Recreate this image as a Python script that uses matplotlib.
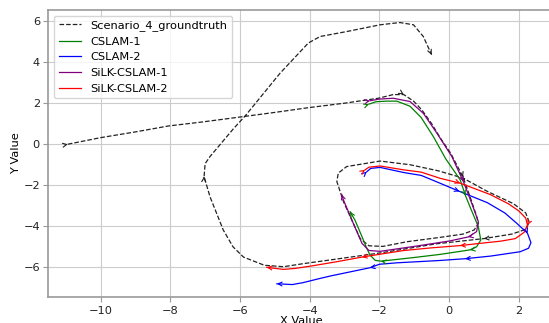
import matplotlib
matplotlib.use("Agg")
import matplotlib.pyplot as plt
import numpy as np

# trajectories (x, y in metres)
gt_x = [-10.94, -10.0, -9.0, -8.05, -7.1, -6.2, -5.0, -4.04, -3.0, -2.03, -1.6, -1.3,
        -1.02, -0.78, -0.5, -0.25, 0.05, 0.4, 0.62, 0.79, 0.84, 0.72, 0.4, -0.3,
        -1.2, -1.9, -2.3, -2.55, -2.75, -3.03, -3.22, -3.18, -2.94, -1.98, -1.12, -0.3,
        0.4, 1.1, 1.85, 2.2, 2.3, 2.2, 1.8, 1.0, -0.35, -1.98, -3.41, -4.18,
        -4.75, -5.3, -5.9, -6.2, -6.48, -6.86, -7.03, -7.0, -6.86, -6.19, -5.85, -4.85,
        -4.04, -3.7, -2.94, -1.98, -1.41, -1.02, -0.74, -0.5]
gt_y = [0.0, 0.32, 0.6, 0.89, 1.08, 1.28, 1.55, 1.78, 2.0, 2.24, 2.42, 2.42,
        2.1, 1.67, 1.0, 0.3, -0.45, -1.6, -2.65, -3.5, -3.86, -4.18, -4.38, -4.55,
        -4.75, -4.98, -4.95, -4.6, -3.85, -2.8, -1.82, -1.41, -1.09, -0.82, -1.0, -1.3,
        -1.65, -2.3, -2.9, -3.35, -3.8, -4.15, -4.38, -4.6, -4.85, -5.3, -5.64, -5.82,
        -5.97, -5.9, -5.5, -5.0, -4.18, -2.56, -1.58, -0.95, -0.6, 0.75, 1.38, 3.46,
        4.93, 5.25, 5.49, 5.82, 5.93, 5.82, 5.25, 4.36]
gt_arrows = [0, 11, 17, 43, 54, -1]

cslam1_x = [-2.3, -2.1, -1.79, -1.5, -1.12, -0.8, -0.45, -0.1, 0.32, 0.47, 0.6, 0.84,
            0.91, 0.79, 0.6, -0.26, -1.0, -1.95, -2.12, -2.27, -2.38, -2.5, -2.7, -2.84]
cslam1_y = [1.95, 2.07, 2.1, 2.1, 1.85, 1.3, 0.37, -0.7, -1.74, -2.5, -3.05, -4.02,
            -4.67, -5.0, -5.15, -5.37, -5.52, -5.7, -5.66, -5.4, -5.0, -4.5, -3.7, -3.29]
cslam1_arrows = [0, 9, 14, 17, -1]

cslam2_x = [-2.36, -2.25, -1.98, -1.3, -0.8, -0.26, 0.3, 1.1, 1.6, 1.94, 2.25, 2.35,
            2.28, 2.04, 1.2, 0.46, -0.3, -1.5, -2.0, -2.27, -3.4, -3.7, -4.2, -4.5, -4.94]
cslam2_y = [-1.34, -1.18, -1.13, -1.38, -1.52, -1.9, -2.3, -2.85, -3.35, -3.85, -4.34, -4.8,
            -5.07, -5.24, -5.45, -5.58, -5.67, -5.78, -5.85, -6.02, -6.42, -6.54, -6.75, -6.84, -6.8]
cslam2_arrows = [0, 6, 10, 15, 19, -1]

silk1_x = [-2.27, -2.0, -1.6, -1.12, -0.74, -0.35, 0.08, 0.41, 0.65, 0.84, 0.79, 0.55,
           0.0, -1.0, -1.98, -2.3, -2.5, -2.75, -3.03, -3.08]
silk1_y = [2.12, 2.2, 2.24, 2.08, 1.51, 0.54, -0.6, -1.82, -2.88, -3.77, -4.26, -4.52,
           -4.72, -4.98, -5.22, -5.18, -4.83, -3.85, -2.72, -2.45]
silk1_arrows = [0, 7, 11, -1]

silk2_x = [-2.41, -2.3, -1.98, -1.3, -0.8, -0.26, 0.32, 1.18, 1.7, 2.0, 2.2, 2.25,
           2.15, 1.9, 1.5, 0.9, 0.32, -0.5, -1.3, -2.5, -3.2, -3.9, -4.4, -4.75, -5.0, -5.23]
silk2_y = [-1.25, -1.12, -1.06, -1.25, -1.36, -1.66, -1.9, -2.45, -2.9, -3.25, -3.6, -3.94,
           -4.3, -4.6, -4.72, -4.83, -4.94, -5.05, -5.18, -5.5, -5.72, -5.92, -6.05, -6.1, -6.05, -6.0]
silk2_arrows = [0, 6, 11, 16, 19, -1]


def add_arrows(ax, xs, ys, idx, color):
    xs = np.asarray(xs)
    ys = np.asarray(ys)
    n = len(xs)
    for i in idx:
        i = i % n
        if i < n - 1:
            dx, dy = xs[i + 1] - xs[i], ys[i + 1] - ys[i]
        else:
            dx, dy = xs[i] - xs[i - 1], ys[i] - ys[i - 1]
        d = np.hypot(dx, dy)
        ax.annotate("", xy=(xs[i], ys[i]),
                    xytext=(xs[i] - 0.08 * dx / d, ys[i] - 0.08 * dy / d),
                    arrowprops=dict(arrowstyle="->", color=color, lw=0.8,
                                    mutation_scale=7, shrinkA=0, shrinkB=0))


fs = 8.2
plt.rcParams["font.size"] = fs
fig = plt.figure(figsize=(5.49, 3.23), dpi=100)
ax = fig.add_axes([0.088, 0.0796, 0.9204, 0.890])

series = [
    (gt_x, gt_y, gt_arrows, "#222222", "--", "Scenario_4_groundtruth"),
    (cslam1_x, cslam1_y, cslam1_arrows, "green", "-", "CSLAM-1"),
    (cslam2_x, cslam2_y, cslam2_arrows, "blue", "-", "CSLAM-2"),
    (silk1_x, silk1_y, silk1_arrows, "purple", "-", "SiLK-CSLAM-1"),
    (silk2_x, silk2_y, silk2_arrows, "red", "-", "SiLK-CSLAM-2"),
]
for xs, ys, arr, c, ls, name in series:
    ax.plot(xs, ys, linestyle=ls, color=c, lw=0.9, label=name)
    add_arrows(ax, xs, ys, arr, c)

ax.set_xlim(-11.5, 3.0)
ax.set_ylim(-7.46, 6.55)
ax.grid(True, color="#cccccc", lw=0.8)
for s in ax.spines.values():
    s.set_color("#999999")
    s.set_linewidth(1.2)
ax.tick_params(colors="#999999", labelcolor="#222222", labelsize=fs, pad=2.5)
ax.set_xlabel("X Value", fontsize=fs, labelpad=0)
ax.set_ylabel("Y Value", fontsize=fs, labelpad=2)
ax.legend(loc="upper left", fontsize=fs)

fig.savefig("out.png")
